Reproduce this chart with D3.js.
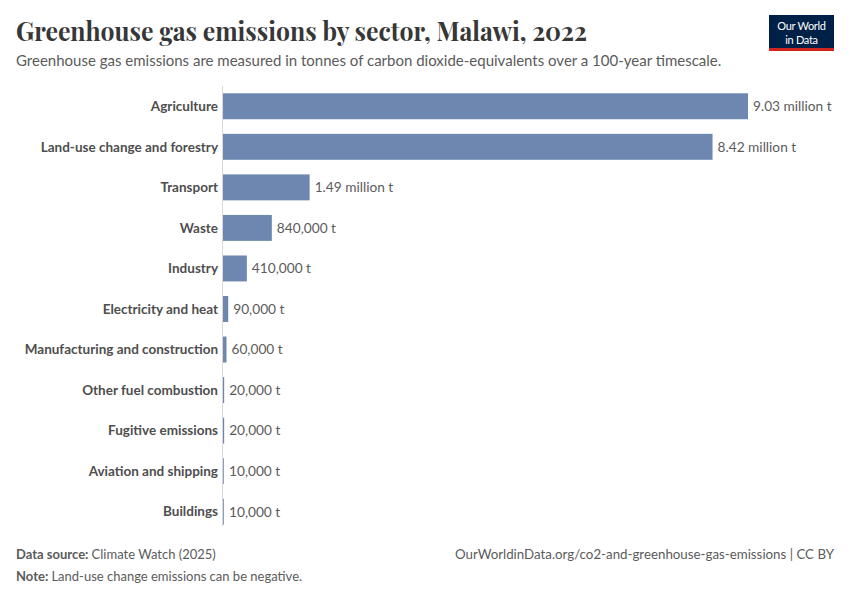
<!DOCTYPE html>
<html>
<head>
<meta charset="utf-8">
<script src="https://cdn.jsdelivr.net/npm/d3@7"></script>
<style>
  body { margin: 0; background: #fff; }
  text { font-family: Lato, "Noto Sans", sans-serif; }
</style>
</head>
<body>
<div id="chart"></div>
<script>
const sectors = [
    "Agriculture", "Land-use change and forestry", "Transport", "Waste", "Industry",
    "Electricity and heat", "Manufacturing and construction", "Other fuel combustion",
    "Fugitive emissions", "Aviation and shipping", "Buildings"
];
const emissions = [9030000, 8420000, 1490000, 840000, 410000, 90000, 60000, 20000, 20000, 10000, 10000];
const valueLabels = [
    "9.03 million t", "8.42 million t", "1.49 million t", "840,000 t", "410,000 t",
    "90,000 t", "60,000 t", "20,000 t", "20,000 t", "10,000 t", "10,000 t"
];

const rows = sectors.map((s, i) => ({ sector: s, value: emissions[i], label: valueLabels[i] }));

const W = 850, H = 600;
const x0 = 223, x1 = 748;
const plotTop = 86, plotBottom = 532;

const svg = d3.select("#chart").append("svg")
    .attr("width", W)
    .attr("height", H);

// Title and subtitle
svg.append("text")
    .attr("x", 16).attr("y", 41)
    .attr("textLength", 571)
    .attr("lengthAdjust", "spacingAndGlyphs")
    .style("font-family", "'Playfair Display', 'Liberation Serif', 'DejaVu Serif', serif")
    .style("font-size", "27px")
    .style("font-weight", "bold")
    .style("fill", "#373737")
    .text("Greenhouse gas emissions by sector, Malawi, 2022");

svg.append("text")
    .attr("x", 16).attr("y", 66)
    .style("font-size", "15px")
    .style("fill", "#5b5b5b")
    .text("Greenhouse gas emissions are measured in tonnes of carbon dioxide-equivalents over a 100-year timescale.");

// Logo
const logo = svg.append("g").attr("transform", "translate(769,15)");
logo.append("rect").attr("width", 65).attr("height", 36).attr("fill", "#002147");
logo.append("rect").attr("y", 33).attr("width", 65).attr("height", 3).attr("fill", "#ce261e");
logo.append("text").attr("x", 32.5).attr("y", 15).attr("text-anchor", "middle")
    .style("font-size", "11px").style("fill", "#fff").style("letter-spacing", "-0.3px").text("Our World");
logo.append("text").attr("x", 32.5).attr("y", 28.5).attr("text-anchor", "middle")
    .style("font-size", "11px").style("fill", "#fff").style("letter-spacing", "-0.3px").text("in Data");

// Scales
const x = d3.scaleLinear()
    .domain([0, d3.max(emissions)])
    .range([x0, x1]);

const y = d3.scaleBand()
    .domain(sectors)
    .range([plotTop, plotBottom])
    .paddingInner(0.36)
    .paddingOuter(0.18);

// Bars
svg.selectAll("rect.bar")
    .data(rows)
    .enter()
    .append("rect")
    .attr("class", "bar")
    .attr("x", x(0))
    .attr("y", d => y(d.sector))
    .attr("width", d => Math.max(x(d.value) - x(0), 0.8))
    .attr("height", y.bandwidth())
    .attr("fill", "#6d87b0");

// Axis line
svg.append("line")
    .attr("x1", x(0) - 0.5).attr("x2", x(0) - 0.5)
    .attr("y1", plotTop).attr("y2", plotBottom - 6)
    .attr("stroke", "#d9d9d9")
    .attr("stroke-width", 1);

// Category labels
svg.selectAll("text.cat")
    .data(rows)
    .enter()
    .append("text")
    .attr("class", "cat")
    .attr("x", x(0) - 5)
    .attr("y", d => y(d.sector) + y.bandwidth() / 2)
    .attr("dy", "0.35em")
    .attr("text-anchor", "end")
    .style("font-size", "13.5px")
    .style("font-weight", "bold")
    .style("fill", "#4e4e4e")
    .text(d => d.sector);

// Value labels
svg.selectAll("text.val")
    .data(rows)
    .enter()
    .append("text")
    .attr("class", "val")
    .attr("x", d => Math.max(x(d.value), x(0) + 1) + 5)
    .attr("y", d => y(d.sector) + y.bandwidth() / 2)
    .attr("dy", "0.35em")
    .style("font-size", "13.7px")
    .style("fill", "#5b5b5b")
    .text(d => d.label);

// Footer
const src = svg.append("text").attr("x", 16).attr("y", 559)
    .style("font-size", "13px").style("fill", "#5b5b5b");
src.append("tspan").style("font-weight", "bold").text("Data source: ");
src.append("tspan").text("Climate Watch (2025)");

const note = svg.append("text").attr("x", 16).attr("y", 581)
    .style("font-size", "13px").style("fill", "#5b5b5b");
note.append("tspan").style("font-weight", "bold").text("Note: ");
note.append("tspan").text("Land-use change emissions can be negative.");

svg.append("text").attr("x", 834).attr("y", 559)
    .attr("text-anchor", "end")
    .style("font-size", "13.3px").style("fill", "#5b5b5b")
    .text("OurWorldinData.org/co2-and-greenhouse-gas-emissions | CC BY");
</script>
</body>
</html>
